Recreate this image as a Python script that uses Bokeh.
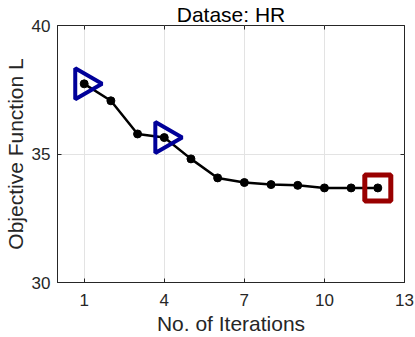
import math
from bokeh.plotting import figure
from bokeh.models import LinearAxis, FixedTicker, Range1d
from bokeh.embed import file_html
from bokeh.resources import INLINE

iterations = [1, 2, 3, 4, 5, 6, 7, 8, 9, 10, 11, 12]
objective = [37.73, 37.07, 35.78, 35.64, 34.81, 34.07, 33.89, 33.81, 33.78, 33.68, 33.68, 33.68]
tri_x = [1, 4]
tri_y = [37.73, 35.64]
sq_x = [12]
sq_y = [33.68]
x_ticks = [1, 4, 7, 10, 13]
y_ticks = [30, 35, 40]
title_text = "Datase: HR"
xlabel_text = "No. of Iterations"
ylabel_text = "Objective Function L"

FONT = "Liberation Sans"
TXT = "#262626"

p = figure(width=415, height=337, output_backend="svg", toolbar_location=None,
           x_range=Range1d(0, 13), y_range=Range1d(30, 40),
           min_border_left=54, min_border_right=11, min_border_top=24, min_border_bottom=54)

p.title.text = title_text
p.title.align = "center"
p.title.text_font = FONT
p.title.text_font_size = "21px"
p.title.text_font_style = "normal"
p.title.text_color = "black"
p.title.offset = 0
p.title.standoff = 0

p.outline_line_color = "#262626"
p.outline_line_width = 1
p.background_fill_color = "white"
p.border_fill_color = "white"

for ax in [p.xaxis[0], p.yaxis[0]]:
    ax.major_tick_in = 4
    ax.major_tick_out = 0
    ax.minor_tick_line_color = None
    ax.axis_line_color = "#262626"
    ax.major_tick_line_color = "#262626"
    ax.major_label_text_font = FONT
    ax.major_label_text_font_size = "17px"
    ax.major_label_text_color = TXT
    ax.axis_label_text_font = FONT
    ax.axis_label_text_font_size = "21px"
    ax.axis_label_text_font_style = "normal"
    ax.axis_label_text_color = TXT

p.xaxis.ticker = FixedTicker(ticks=x_ticks)
p.yaxis.ticker = FixedTicker(ticks=y_ticks)
p.xaxis.axis_label = xlabel_text
p.yaxis.axis_label = ylabel_text
p.xaxis.major_label_standoff = 11
p.xaxis.axis_label_standoff = 3
p.yaxis.major_label_standoff = 7
p.yaxis.axis_label_standoff = 2

p.xgrid.ticker = FixedTicker(ticks=x_ticks)
p.ygrid.ticker = FixedTicker(ticks=y_ticks)
p.grid.grid_line_color = "#e3e3e3"
p.grid.grid_line_width = 1

top = LinearAxis(ticker=FixedTicker(ticks=x_ticks), major_label_text_font_size="0px",
                 major_tick_in=4, major_tick_out=0, minor_tick_line_color=None,
                 axis_line_color=None, major_tick_line_color="#262626", major_label_standoff=0)
right = LinearAxis(ticker=FixedTicker(ticks=y_ticks), major_label_text_font_size="0px",
                   major_tick_in=4, major_tick_out=0, minor_tick_line_color=None,
                   axis_line_color=None, major_tick_line_color="#262626", major_label_standoff=0)
top.major_label_text_color = None
right.major_label_text_color = None
p.add_layout(top, "above")
p.add_layout(right, "right")

p.line(iterations, objective, line_color="black", line_width=2.5)
p.scatter(iterations, objective, marker="circle", size=8, fill_color="black", line_color="black")
p.scatter(tri_x, tri_y, marker="triangle", size=31, angle=-math.pi / 2,
          fill_color=None, line_color="#000099", line_width=4)
p.scatter(sq_x, sq_y, marker="square", size=26, fill_color=None,
          line_color="#990000", line_width=5)

open("out.html", "w").write(file_html(p, INLINE))
